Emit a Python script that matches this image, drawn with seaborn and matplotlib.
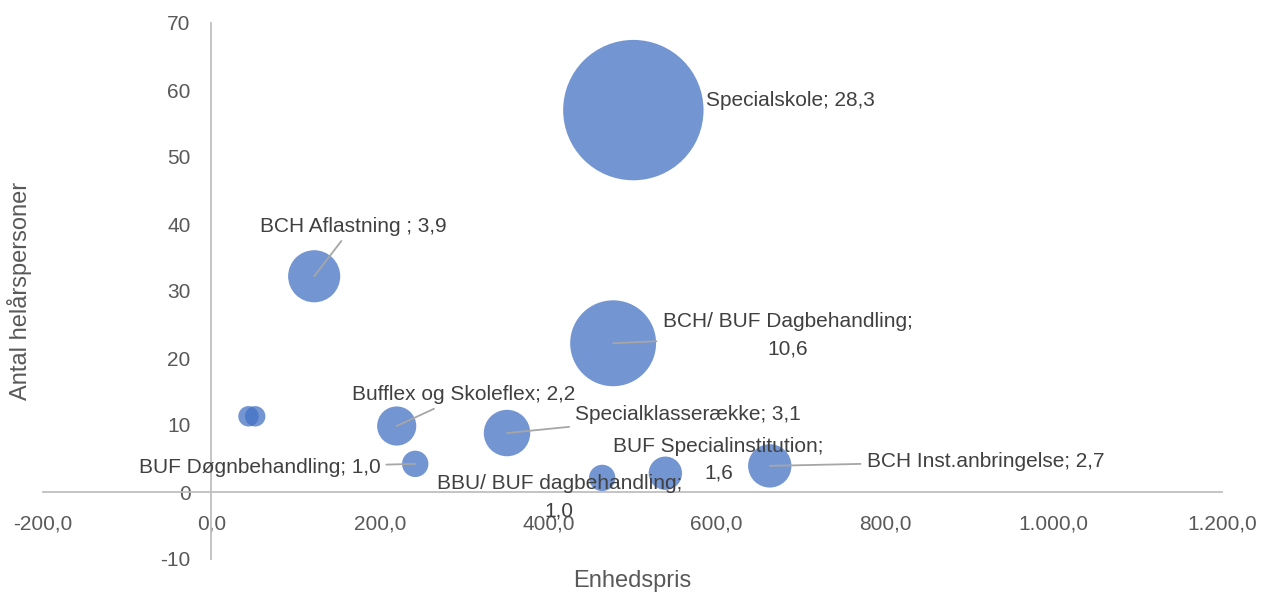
# bubble chart: enhedspris vs antal helårspersoner, bubble = udgift (mio.)
import pandas as pd
import matplotlib
matplotlib.use("Agg")
import matplotlib.pyplot as plt
from matplotlib.ticker import FuncFormatter
import seaborn as sns

names = [
    "Specialskole", "BCH Aflastning ", "BCH/ BUF Dagbehandling", "", "",
    "Bufflex og Skoleflex", "Specialklasserække", "BUF Døgnbehandling",
    "BBU/ BUF dagbehandling", "BUF Specialinstitution", "BCH Inst.anbringelse",
]
enhedspris = [501, 122, 477, 44, 52, 220, 351, 242, 464, 539, 663]
helaarspersoner = [57.0, 32.2, 22.2, 11.3, 11.3, 9.85, 8.8, 4.2, 2.1, 2.8, 3.9]
udgift = [28.3, 3.9, 10.6, 0.6, 0.6, 2.2, 3.1, 1.0, 1.0, 1.6, 2.7]

x_ticks = [-200, 0, 200, 400, 600, 800, 1000, 1200]
y_ticks = [-10, 0, 10, 20, 30, 40, 50, 60, 70]

# label placement (data coords) and whether a leader line is drawn
label_pos = [
    (587, 58.5, "left"), (168, 39.7, "center"), (684, 23.4, "center"),
    None, None,
    (300, 14.5, "center"), (566, 11.5, "center"), (57, 3.6, "center"),
    (413, -0.75, "center"), (602, 4.8, "center"), (919, 4.6, "center"),
]
leader = [False, True, True, False, False, True, True, True, False, False, True]
wrap = [False, False, True, False, False, False, False, False, True, True, False]

df = pd.DataFrame({"x": enhedspris, "y": helaarspersoner, "s": udgift})

sns.set_theme(style="white")
plt.rcParams["font.family"] = ["Liberation Sans", "DejaVu Sans"]

FS = 15

fig = plt.figure(figsize=(12.66, 5.93), dpi=100)
ax = fig.add_axes([43 / 1266, 34 / 593, 1179 / 1266, 536 / 593])

sns.scatterplot(data=df, x="x", y="y", size="s", sizes=(0, 361 * 30),
                size_norm=(0, 30), color="#4472C4", alpha=0.75,
                edgecolor="none", legend=False, ax=ax, zorder=3)

ax.set_xlim(-200, 1200)
ax.set_ylim(-10, 70)
ax.set_xticks(x_ticks)
ax.set_yticks(y_ticks)

def dk_fmt(v, pos):
    s = f"{v:,.1f}"
    return s.replace(",", "X").replace(".", ",").replace("X", ".")

ax.xaxis.set_major_formatter(FuncFormatter(dk_fmt))
ax.yaxis.set_major_formatter(FuncFormatter(lambda v, p: f"{v:.0f}"))

for side in ["top", "right"]:
    ax.spines[side].set_visible(False)
for side in ["left", "bottom"]:
    ax.spines[side].set_position(("data", 0))
    ax.spines[side].set_color("#bfbfbf")
    ax.spines[side].set_linewidth(1.3)
    ax.spines[side].set_zorder(2)

ax.tick_params(axis="both", length=0, labelsize=FS, labelcolor="#595959")
ax.tick_params(axis="x", pad=16)
ax.tick_params(axis="y", pad=15)

ax.set_xlabel("Enhedspris", fontsize=17, color="#595959")
ax.set_ylabel("Antal helårspersoner", fontsize=17, color="#595959")
ax.xaxis.set_label_coords(0.5, -0.02)
ax.yaxis.set_label_coords(-0.009, 0.5)

for i, name in enumerate(names):
    if label_pos[i] is None:
        continue
    lx, ly, ha = label_pos[i]
    val = f"{udgift[i]:.1f}".replace(".", ",")
    sep = "\n" if wrap[i] else " "
    txt = f"{name};{sep}{val}"
    arrow = dict(arrowstyle="-", color="#a6a6a6", lw=1.3,
                 shrinkA=2, shrinkB=0) if leader[i] else None
    ax.annotate(txt, xy=(enhedspris[i], helaarspersoner[i]), xytext=(lx, ly),
                textcoords="data", ha=ha, va="center", fontsize=FS,
                color="#404040", linespacing=1.55, arrowprops=arrow, zorder=4)

fig.savefig("out.png", dpi=100, facecolor="white")
